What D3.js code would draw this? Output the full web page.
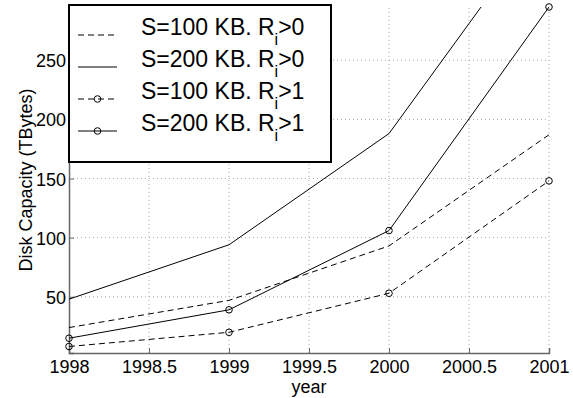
<!DOCTYPE html>
<html>
<head>
<meta charset="utf-8">
<script src="https://cdn.jsdelivr.net/npm/d3@7"></script>
<style>
  body { margin: 0; background: #fff; }
  svg { display: block; font-family: "Liberation Sans", Arial, sans-serif; }
</style>
</head>
<body>
<svg id="chart" width="573" height="398"></svg>
<script>
// data
const years = [1998, 1999, 2000, 2001];
const s100r0 = [24, 47, 93, 187];
const s200r0 = [48, 94, 188, 374];
const s100r1 = [8, 20, 53, 148];
const s200r1 = [15, 39, 106, 295];
const xTicks = [1998, 1998.5, 1999, 1999.5, 2000, 2000.5, 2001];
const yTicks = [50, 100, 150, 200, 250];

const series = [
  { name: "S=100 KB. R", sub: "i", tail: ">0", values: s100r0, dash: "6,4", marker: false },
  { name: "S=200 KB. R", sub: "i", tail: ">0", values: s200r0, dash: null, marker: false },
  { name: "S=100 KB. R", sub: "i", tail: ">1", values: s100r1, dash: "6,4", marker: true },
  { name: "S=200 KB. R", sub: "i", tail: ">1", values: s200r1, dash: null, marker: true }
];

const plotL = 69, plotR = 549, plotT = 7, plotB = 353;

const svg = d3.select("#chart");

const x = d3.scaleLinear().domain([1998, 2001]).range([plotL, plotR]);
const y = d3.scaleLinear().domain([2.5, 295]).range([plotB, plotT]);

// grid
const grid = svg.append("g")
  .attr("stroke", "#aaa")
  .attr("stroke-dasharray", "1,3");
grid.selectAll("line.v")
  .data(xTicks.slice(1))
  .enter().append("line")
  .attr("x1", d => x(d)).attr("x2", d => x(d))
  .attr("y1", plotB).attr("y2", plotT);
grid.selectAll("line.h")
  .data(yTicks)
  .enter().append("line")
  .attr("x1", plotL).attr("x2", plotR)
  .attr("y1", d => y(d)).attr("y2", d => y(d));

// axes (ticks inside, like matlab)
const xAxis = svg.append("g")
  .attr("transform", "translate(0," + plotB + ")")
  .call(d3.axisBottom(x).tickValues(xTicks).tickSize(-5).tickPadding(7).tickFormat(d3.format("")));
const yAxis = svg.append("g")
  .attr("transform", "translate(" + plotL + ",0)")
  .call(d3.axisLeft(y).tickValues(yTicks).tickSize(-5).tickPadding(3));
[xAxis, yAxis].forEach(a => {
  a.select(".domain").attr("stroke", "#666").attr("stroke-width", 1.5);
  a.selectAll(".tick line").attr("stroke", "#666");
  a.selectAll("text").attr("font-size", 18).attr("fill", "#000")
    .attr("font-family", "Liberation Sans, Arial, sans-serif");
});
xAxis.selectAll("text").attr("dy", "0.72em");
yAxis.selectAll("text").attr("dy", "0.36em");

// lines
svg.append("clipPath").attr("id", "clip")
  .append("rect").attr("x", plotL).attr("y", plotT)
  .attr("width", plotR - plotL).attr("height", plotB - plotT);

const line = d3.line().x((d, i) => x(years[i])).y(d => y(d));

series.forEach(s => {
  svg.append("path")
    .datum(s.values)
    .attr("clip-path", "url(#clip)")
    .attr("fill", "none")
    .attr("stroke", "#000")
    .attr("stroke-width", 1)
    .attr("stroke-dasharray", s.dash)
    .attr("d", line);
  if (s.marker) {
    svg.selectAll(null)
      .data(s.values)
      .enter().append("circle")
      .attr("cx", (d, i) => x(years[i]))
      .attr("cy", d => y(d))
      .attr("r", 3.3)
      .attr("fill", "none")
      .attr("stroke", "#000");
  }
});

// labels
svg.append("text")
  .attr("x", (plotL + plotR) / 2).attr("y", 393)
  .attr("text-anchor", "middle").attr("font-size", 18)
  .text("year");
svg.append("text")
  .attr("transform", "translate(32," + (plotT + plotB) / 2 + ") rotate(-90)")
  .attr("text-anchor", "middle").attr("font-size", 18)
  .text("Disk Capacity (TBytes)");

// legend
const legend = svg.append("g");
legend.append("rect")
  .attr("x", 69).attr("y", 5).attr("width", 262).attr("height", 157)
  .attr("fill", "#fff").attr("stroke", "#000").attr("stroke-width", 2);

series.forEach((s, i) => {
  const ly = 35 + i * 32;
  legend.append("line")
    .attr("x1", 78).attr("x2", 117).attr("y1", ly).attr("y2", ly)
    .attr("stroke", "#000").attr("stroke-dasharray", s.dash);
  if (s.marker) {
    legend.append("circle").attr("cx", 97.5).attr("cy", ly).attr("r", 3.3)
      .attr("fill", "none").attr("stroke", "#000");
  }
  const t = legend.append("text").attr("x", 141).attr("y", ly).attr("font-size", 23);
  t.append("tspan").text(s.name);
  t.append("tspan").attr("font-size", 16).attr("dy", 10).text(s.sub);
  t.append("tspan").attr("dy", -10).text(s.tail);
});
</script>
</body>
</html>
